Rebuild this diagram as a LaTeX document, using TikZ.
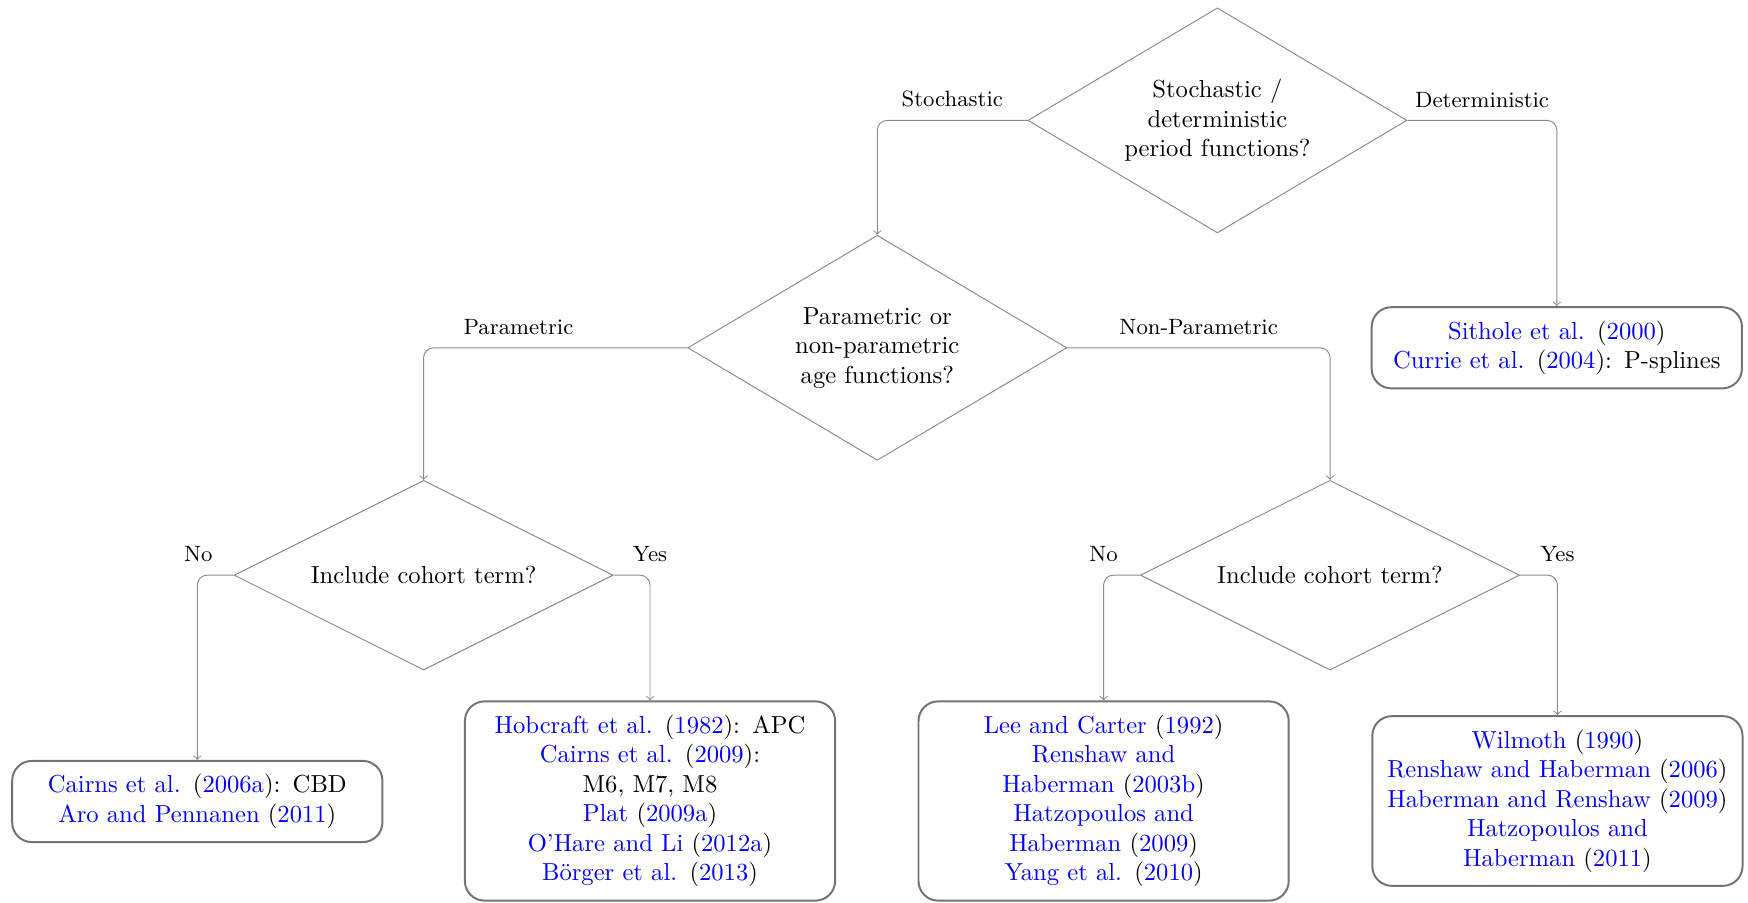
\documentclass[tikz,border=0pt]{standalone}
\usetikzlibrary{shapes.geometric}
\definecolor{linegray}{gray}{0.55}
\definecolor{boxgray}{gray}{0.45}
\newcommand{\ct}[2]{\textcolor{blue}{#1} (\textcolor{blue}{#2})}
\tikzset{
  dec/.style={diamond, draw=linegray, line width=0.4pt, aspect=2, inner sep=0pt,
    minimum width=154.1pt, align=center},
  res/.style={draw=boxgray, line width=0.8pt, rounded corners=8pt, text width=139.5pt,
    inner xsep=5.5pt, inner ysep=5.5pt, align=center},
  conn/.style={draw=linegray, line width=0.4pt, ->, rounded corners=4pt},
  lab/.style={font=\small, above=1.8pt, text=black}
}
\begin{document}
\begin{tikzpicture}[x=0.4065pt, y=-0.4065pt]
\useasboundingbox (0,0) rectangle (1748,903);
\node[dec, minimum height=91.5pt] (d1) at (1217.4,120.4) {Stochastic /\\deterministic\\period functions?};
\node[dec, minimum height=91.5pt] (d2) at (877.3,347.8) {Parametric or\\non-parametric\\age functions?};
\node[dec, minimum height=77.1pt] (d3) at (423.6,575.2) {Include cohort term?};
\node[dec, minimum height=77.1pt] (d4) at (1330,575.2) {Include cohort term?};
\node[res] (b1) at (1556.8,347.8) {\ct{Sithole et al.}{2000}\\ \ct{Currie et al.}{2004}: P-splines};
\node[res] (b2) at (197.3,801.5) {\ct{Cairns et al.}{2006a}: CBD\\ \ct{Aro and Pennanen}{2011}};
\node[res] (b3) at (650,801) {\ct{Hobcraft et al.}{1982}: APC\\ \ct{Cairns et al.}{2009}:\\ M6, M7, M8\\ \ct{Plat}{2009a}\\ \ct{O’Hare and Li}{2012a}\\ \ct{Börger et al.}{2013}};
\node[res] (b4) at (1103.6,801) {\ct{Lee and Carter}{1992}\\ \textcolor{blue}{Renshaw and}\\ \textcolor{blue}{Haberman} (\textcolor{blue}{2003b})\\ \textcolor{blue}{Hatzopoulos and}\\ \textcolor{blue}{Haberman} (\textcolor{blue}{2009})\\ \ct{Yang et al.}{2010}};
\node[res] (b5) at (1557.4,801) {\ct{Wilmoth}{1990}\\ \ct{Renshaw and Haberman}{2006}\\ \ct{Haberman and Renshaw}{2009}\\ \textcolor{blue}{Hatzopoulos and}\\ \textcolor{blue}{Haberman} (\textcolor{blue}{2011})};
\draw[conn] (d1.west) -| node[lab, pos=.25] {Stochastic} (d2.north);
\draw[conn] (d1.east) -| node[lab, pos=.25] {Deterministic} (b1.north);
\draw[conn] (d2.west) -| node[lab, pos=.32] {Parametric} (d3.north);
\draw[conn] (d2.east) -| node[lab, pos=.25] {Non-Parametric} (d4.north);
\draw[conn] (d3.west) -| node[lab, pos=.485] {No} (b2.north);
\draw[conn] (d3.east) -| node[lab, pos=.5] {Yes} (b3.north);
\draw[conn] (d4.west) -| node[lab, pos=.5] {No} (b4.north);
\draw[conn] (d4.east) -| node[lab, pos=.5] {Yes} (b5.north);
\end{tikzpicture}
\end{document}
